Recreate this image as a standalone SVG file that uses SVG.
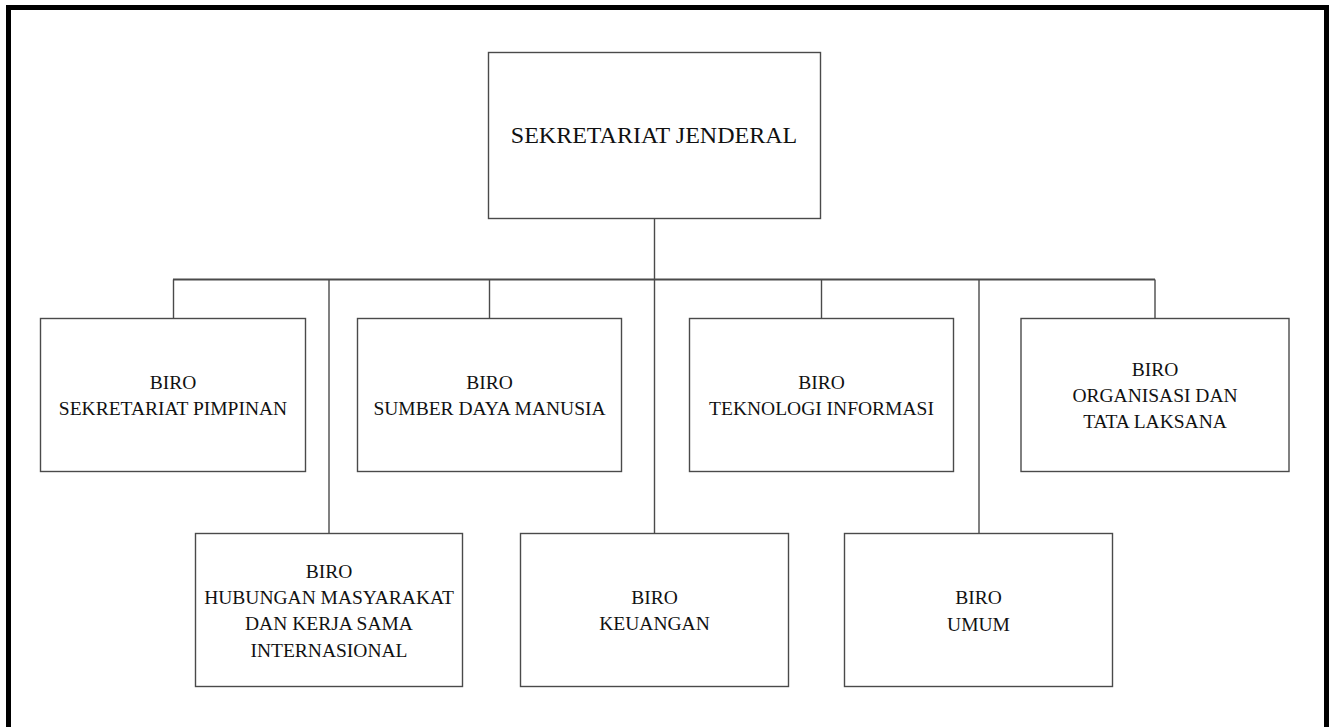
<svg xmlns="http://www.w3.org/2000/svg" width="1331" height="727" viewBox="0 0 1331 727">
  <style>
    .box { fill: #ffffff; stroke: #4a4a4a; stroke-width: 1.4; }
    .lbl { font-family: "Liberation Serif", "Times New Roman", serif; font-size: 19.5px; fill: #111111; text-anchor: middle; }
    .title { font-family: "Liberation Serif", "Times New Roman", serif; font-size: 24px; fill: #111111; text-anchor: middle; }
    .wire { fill: none; stroke: #4a4a4a; stroke-width: 1.4; }
    .bus { fill: none; stroke: #4a4a4a; stroke-width: 2; }
  </style>

  <!-- page frame -->
  <rect x="0" y="0" width="1331" height="727" fill="#ffffff"/>
  <rect x="8.5" y="7.5" width="1318" height="740" fill="none" stroke="#000000" stroke-width="5"/>

  <!-- connectors -->
  <g id="connectors">
    <line class="bus" x1="173" y1="279.5" x2="1155" y2="279.5"/>
    <line class="wire" x1="654.5" y1="218" x2="654.5" y2="533"/>
    <line class="wire" x1="173.5" y1="279.5" x2="173.5" y2="318"/>
    <line class="wire" x1="489.5" y1="279.5" x2="489.5" y2="318"/>
    <line class="wire" x1="821.5" y1="279.5" x2="821.5" y2="318"/>
    <line class="wire" x1="1155" y1="279.5" x2="1155" y2="318"/>
    <line class="wire" x1="329" y1="279.5" x2="329" y2="533"/>
    <line class="wire" x1="979" y1="279.5" x2="979" y2="533"/>
  </g>

  <!-- top node -->
  <g id="sekretariat-jenderal">
    <rect class="box" x="488.5" y="52.5" width="332" height="166"/>
    <text class="title" x="654" y="143">SEKRETARIAT JENDERAL</text>
  </g>

  <!-- upper row -->
  <g id="biro-sekretariat-pimpinan">
    <rect class="box" x="40.5" y="318.5" width="265" height="153"/>
    <text class="lbl" x="173" y="388.5">BIRO</text>
    <text class="lbl" x="173" y="414.5">SEKRETARIAT PIMPINAN</text>
  </g>
  <g id="biro-sdm">
    <rect class="box" x="357.5" y="318.5" width="264" height="153"/>
    <text class="lbl" x="489.5" y="389">BIRO</text>
    <text class="lbl" x="489.5" y="415">SUMBER DAYA MANUSIA</text>
  </g>
  <g id="biro-ti">
    <rect class="box" x="689.5" y="318.5" width="264" height="153"/>
    <text class="lbl" x="821.5" y="389">BIRO</text>
    <text class="lbl" x="821.5" y="415">TEKNOLOGI INFORMASI</text>
  </g>
  <g id="biro-ortala">
    <rect class="box" x="1021" y="318.5" width="268" height="153"/>
    <text class="lbl" x="1155" y="376">BIRO</text>
    <text class="lbl" x="1155" y="402">ORGANISASI DAN</text>
    <text class="lbl" x="1155" y="428">TATA LAKSANA</text>
  </g>

  <!-- lower row -->
  <g id="biro-humas">
    <rect class="box" x="195.5" y="533.5" width="267" height="153"/>
    <text class="lbl" x="329" y="578">BIRO</text>
    <text class="lbl" x="329" y="604">HUBUNGAN MASYARAKAT</text>
    <text class="lbl" x="329" y="630">DAN KERJA SAMA</text>
    <text class="lbl" x="329" y="656.5">INTERNASIONAL</text>
  </g>
  <g id="biro-keuangan">
    <rect class="box" x="520.5" y="533.5" width="268" height="153"/>
    <text class="lbl" x="654.5" y="603.5">BIRO</text>
    <text class="lbl" x="654.5" y="630">KEUANGAN</text>
  </g>
  <g id="biro-umum">
    <rect class="box" x="844.5" y="533.5" width="268" height="153"/>
    <text class="lbl" x="978.5" y="603.5">BIRO</text>
    <text class="lbl" x="978.5" y="630.5">UMUM</text>
  </g>
</svg>
